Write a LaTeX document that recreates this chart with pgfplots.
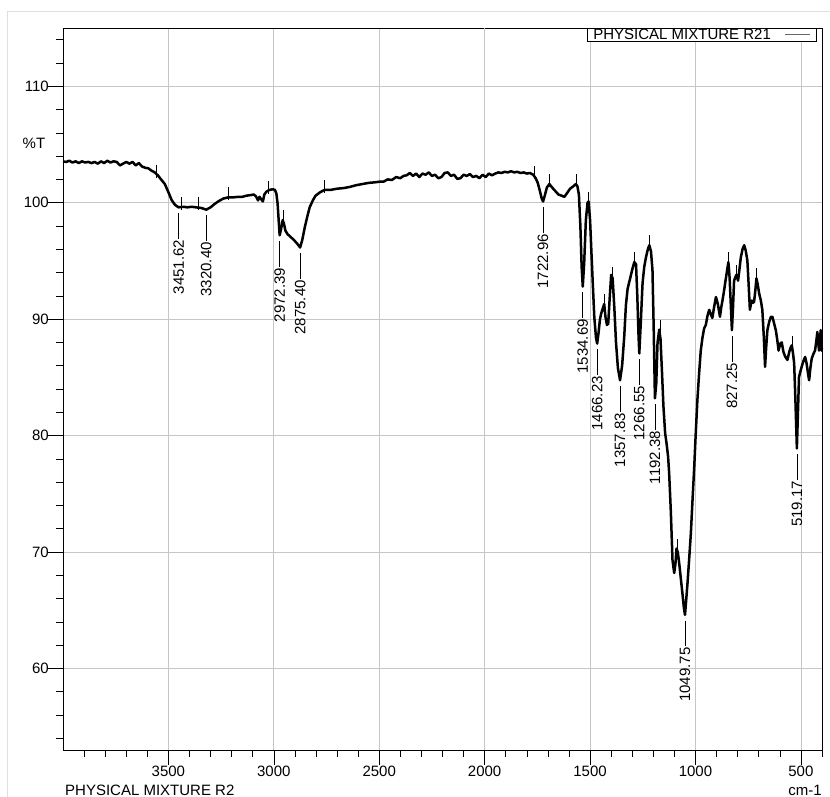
\documentclass[border=0pt]{standalone}
\usepackage{fontspec}
\setmainfont{Liberation Sans}
\usepackage{pgfplots}
\pgfplotsset{compat=1.18}
\newcommand{\fs}{\fontsize{15bp}{18bp}\selectfont}
\newcommand{\peak}[3]{%
  \draw[black, line width=0.6bp] (axis cs:#1,#2-0.5) -- (axis cs:#1,#2-2.7);
  \node[rotate=90, anchor=east, inner sep=1bp, font=\fs] at (axis cs:#1,#2-2.7) {#3};}
\begin{document}
\begin{tikzpicture}
\useasboundingbox (0,0) rectangle (830bp,797bp);
\fill[white] (0,0) rectangle (830bp,797bp);
\draw[gray!25, line width=0.8bp] (7bp,0bp) -- (7bp,786bp) -- (830bp,786bp);
\begin{axis}[
  at={(63bp,47bp)}, anchor=south west,
  scale only axis, width=759bp, height=722bp,
  x dir=reverse, xmin=400, xmax=4000, ymin=53, ymax=115,
  xtick={500,1000,1500,2500,3000,3500},
  extra x ticks={2000},
  extra x tick style={grid style={black!65, line width=0.7bp}},
  minor xtick={400,500,...,3900},
  ytick={60,70,...,110},
  minor ytick={54,56,...,114},
  grid=major,
  major grid style={gray!45, line width=0.7bp},
  tick align=outside, tick pos=left,
  major tick length=15bp, minor tick length=7bp,
  every tick/.style={black, line width=0.6bp},
  axis line style={black, line width=0.8bp},
  tick label style={font=\fs},
  /pgf/number format/assume math mode=true,
  /pgf/number format/1000 sep={},
  yticklabel style={inner sep=0bp, xshift=1bp},
  xticklabel style={inner sep=1bp},
  legend plot pos=right,
  legend style={at={(rel axis cs:0.9934,1)}, anchor=north east,
    draw=black, line width=0.6bp, font=\fs,
    inner xsep=6bp, inner ysep=0bp,
    column sep=14bp,
    nodes={inner ysep=0.5bp, inner xsep=0bp}},
  legend image code/.code={\draw[#1] (0bp,0bp) -- (25bp,0bp);},
  clip=false,
]
\addlegendimage{black!60, line width=0.8bp}
\addlegendentry{PHYSICAL MIXTURE R21}
\addplot[black, line width=2.5bp, line join=round, forget plot] coordinates {
(4000,103.55) (3985,103.5) (3970,103.6) (3955,103.45) (3940,103.55) (3925,103.4)
(3910,103.55) (3895,103.45) (3880,103.5) (3865,103.4) (3850,103.5) (3835,103.35)
(3820,103.55) (3805,103.4) (3790,103.6) (3775,103.45) (3760,103.55) (3745,103.5)
(3730,103.2) (3715,103.35) (3700,103.5) (3685,103.35) (3670,103.5) (3655,103.2)
(3640,103.4) (3625,103.1) (3610,103.0) (3595,102.95) (3580,102.75) (3565,102.6)
(3550,102.35) (3535,102.0) (3517,101.6) (3500,100.9) (3484,100.2) (3468,99.8)
(3451.62,99.6) (3430,99.65) (3410,99.6) (3390,99.65) (3370,99.6) (3345,99.55)
(3320.4,99.4) (3300,99.6) (3280,99.9) (3260,100.15) (3240,100.35) (3218,100.45)
(3195,100.45) (3170,100.5) (3150,100.5) (3130,100.6) (3110,100.65) (3095,100.7)
(3085,100.55) (3075,100.2) (3068,100.5) (3060,100.3) (3052,100.1) (3045,100.7)
(3035,100.95) (3020,101.1) (3005,101.15) (2995,101.1) (2988,100.8) (2982,99.9)
(2976,98.2) (2972.39,97.2) (2966,97.7) (2958,98.5) (2952,98.2) (2945,97.6)
(2935,97.3) (2920,97.05) (2905,96.8) (2890,96.5) (2875.4,96.15) (2865,96.8)
(2853,97.9) (2840,98.9) (2830,99.6) (2815,100.2) (2802,100.6) (2780,100.9)
(2759,101.1) (2730,101.1) (2700,101.2) (2670,101.25) (2640,101.35) (2610,101.5)
(2580,101.6) (2550,101.7) (2520,101.75) (2500,101.8) (2480,101.8) (2460,102.0)
(2440,101.95) (2420,102.2) (2400,102.1) (2385,102.3) (2370,102.35) (2355,102.55)
(2340,102.3) (2325,102.5) (2310,102.2) (2295,102.5) (2280,102.4) (2265,102.6)
(2250,102.3) (2235,102.4) (2220,102.1) (2205,102.2) (2190,102.55) (2175,102.6)
(2160,102.3) (2145,102.4) (2130,102.05) (2115,102.1) (2100,102.4) (2085,102.3)
(2070,102.45) (2055,102.2) (2040,102.3) (2025,102.1) (2010,102.4) (1995,102.2)
(1980,102.5) (1965,102.35) (1950,102.5) (1935,102.6) (1920,102.55) (1905,102.65)
(1890,102.6) (1875,102.7) (1860,102.6) (1845,102.65) (1830,102.55) (1815,102.6)
(1800,102.5) (1785,102.55) (1770,102.4) (1758,102.1) (1748,101.7) (1738,101.0)
(1730,100.4) (1722.96,100.1) (1715,100.6) (1705,101.3) (1693,101.6) (1680,101.3)
(1665,101.0) (1650,100.7) (1635,100.6) (1622,100.5) (1610,100.8) (1595,101.2)
(1580,101.4) (1567,101.6) (1560,101.4) (1553,100.7) (1546,98.0) (1540,94.5)
(1534.69,92.8) (1528,94.8) (1520,98.5) (1512,100.0) (1507,100.1) (1500,98.5)
(1494,95.9) (1487,93.0) (1480,90.2) (1472,88.4) (1466.23,87.9) (1460,88.8)
(1453,90.0) (1447,90.5) (1440,90.9) (1433,91.3) (1427,90.2) (1420,89.5)
(1414,89.6) (1407,91.8) (1400,93.8) (1393,93.5) (1385,91.0) (1377,88.0)
(1368,85.8) (1357.83,84.75) (1348,86.0) (1338,88.5) (1330,91.2) (1322,92.6)
(1314,93.2) (1298,94.4) (1290,94.9) (1282,94.7) (1276,92.0) (1270,88.5)
(1266.55,87.05) (1260,89.5) (1251,93.1) (1243,94.5) (1235,95.3) (1226,96.0)
(1219,96.35) (1211,95.8) (1204,94.2) (1198,89.0) (1192.38,83.2) (1186,84.5)
(1180,88.0) (1172,89.1) (1166,88.3) (1159,85.5) (1152,82.5) (1144,80.2)
(1137,79.3) (1130,78.2) (1125,76.8) (1117,73.5) (1109,69.3) (1101,68.2)
(1095,69.0) (1090,70.3) (1084,70.0) (1077,69.0) (1070,67.8) (1062,66.45)
(1055,65.2) (1049.75,64.6) (1044,65.9) (1038,67.3) (1030,69.4) (1022,71.6)
(1014,74.5) (1006,77.3) (999,80.1) (991,83.05) (983,85.3) (975,87.3)
(967,88.4) (959,89.2) (951,89.5) (943,90.3) (935,90.8) (927,90.4)
(920,90.1) (912,91.0) (903,91.9) (894,91.3) (884,90.2) (878,91.0)
(872,91.6) (864,92.5) (856,93.5) (850,94.2) (844,94.9) (838,93.5)
(832,91.0) (827.25,89.05) (822,91.0) (817,93.3) (811,93.6) (806,93.8)
(798,93.3) (792,94.2) (785,95.3) (777,96.0) (769,96.35) (762,95.9)
(754,95.05) (748,93.0) (742,90.8) (737,91.3) (733,91.6) (727,91.4)
(722,91.5) (716,92.5) (711,93.5) (705,93.0) (698,92.2) (690,91.6)
(683,90.8) (676,88.5) (670,85.9) (665,87.5) (659,89.05) (650,89.8)
(642,90.2) (635,90.2) (628,89.7) (619,89.05) (612,88.2) (606,87.3)
(598,87.9) (591,88.0) (583,87.2) (575,86.8) (568,86.6) (564,86.5)
(555,87.2) (548,87.6) (543,87.75) (537,87.0) (532,86.2) (526,83.0)
(519.17,78.9) (514,82.0) (509,85.05) (501,85.6) (495,86.0) (488,86.4)
(480,86.75) (473,86.2) (466,85.3) (461,84.75) (455,85.8) (449,86.6)
(441,87.0) (433,87.3) (427,88.1) (422,88.9) (418,88.0) (414,87.3)
(410,88.2) (406,89.05) (402,87.3) (400,87.5)
};
\addplot[only marks, mark=|, mark size=6.5bp, mark options={black, line width=0.6bp}, forget plot] coordinates {
(3556,102.7) (3438,99.9) (3359,99.9) (3217,100.8) (3027,101.3) (2956,98.8)
(2759,101.4) (1764,102.6) (1693,101.9) (1567,101.9) (1507,100.4) (1433,91.6)
(1393,93.9) (1290,95.2) (1219,96.65) (1167,89.4) (1088,70.6) (844,95.2)
(806,94.1) (711,93.8) (541,88.0)
};
\peak{3451.62}{99.6}{3451.62}
\peak{3320.40}{99.4}{3320.40}
\peak{2972.39}{97.2}{2972.39}
\peak{2875.40}{96.15}{2875.40}
\peak{1722.96}{100.1}{1722.96}
\peak{1534.69}{92.8}{1534.69}
\peak{1466.23}{87.9}{1466.23}
\peak{1357.83}{84.75}{1357.83}
\peak{1266.55}{87.05}{1266.55}
\peak{1192.38}{83.2}{1192.38}
\peak{1049.75}{64.6}{1049.75}
\peak{827.25}{89.05}{827.25}
\peak{519.17}{78.9}{519.17}
\node[font=\fs, inner sep=0pt] at ([xshift=-29bp]axis cs:4000,105.1) {\%T};
\node[font=\fs, anchor=west, inner sep=0pt] at ([xshift=2bp,yshift=-40bp]rel axis cs:0,0) {PHYSICAL MIXTURE R2};
\node[font=\fs, anchor=east, inner sep=0pt] at ([yshift=-40bp]rel axis cs:1,0) {cm-1};
\end{axis}
\end{tikzpicture}
\end{document}
